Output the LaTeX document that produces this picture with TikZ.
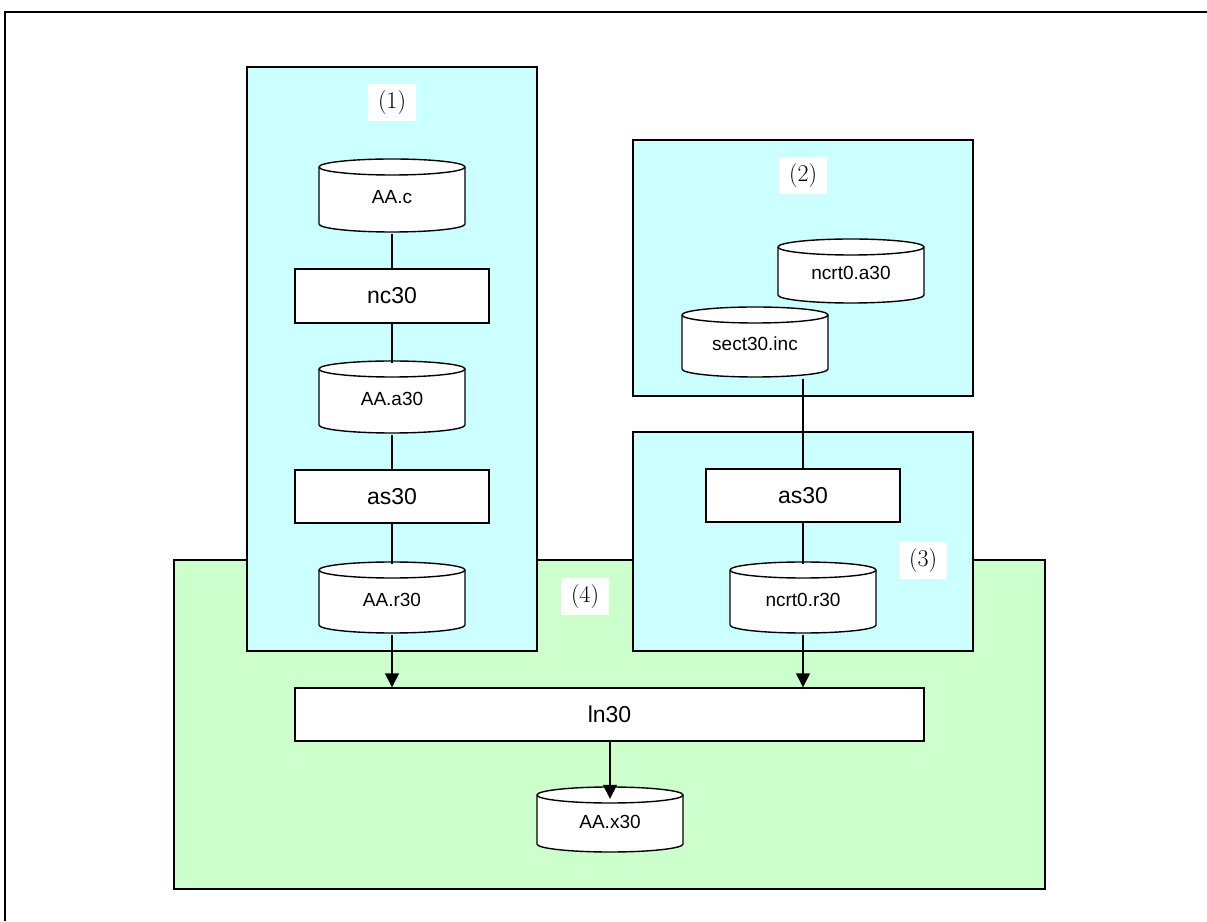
\documentclass[tikz,border=0pt]{standalone}
\usepackage{fontspec}
\newfontfamily\sansf{Liberation Sans}
\usetikzlibrary{arrows.meta}
\definecolor{regcyan}{HTML}{CCFFFF}
\definecolor{reggreen}{HTML}{CCFFCC}
\tikzset{
  region/.style={draw=black, line width=1.5pt, inner sep=0pt},
  cyanreg/.style={region, fill=regcyan},
  greenreg/.style={region, fill=reggreen},
  proc/.style={draw=black, fill=white, line width=1.4pt, inner sep=0pt,
    font=\sansf\fontsize{23}{23}\selectfont},
  cyltext/.style={inner sep=0pt, font=\sansf\fontsize{19}{19}\selectfont},
  cylline/.style={draw=black, fill=white, line width=1.4pt},
  tag/.style={fill=white, inner sep=0pt, minimum width=48pt, minimum height=37pt,
    font=\fontsize{24}{24}\selectfont},
  conn/.style={line width=1.5pt},
  arr/.style={conn, -{Triangle[width=14pt,length=14pt]}},
  frameline/.style={line width=2.2pt},
}
% name, cx, top (px from top), height, width, text
\newcommand{\dbcyl}[6]{%
  \pgfmathsetmacro\cylT{921-#3}%
  \pgfmathsetmacro\cylB{921-#3-#4}%
  \pgfmathsetmacro\cylL{#2-#5/2}%
  \pgfmathsetmacro\cylR{#2+#5/2}%
  \pgfmathsetmacro\cylrx{#5/2}%
  \path[cylline] (\cylL,\cylT-8) -- (\cylL,\cylB+8)
    arc[start angle=180,end angle=360,x radius=\cylrx pt,y radius=8pt]
    -- (\cylR,\cylT-8)
    arc[start angle=0,end angle=180,x radius=\cylrx pt,y radius=8pt] -- cycle;
  \draw[cylline, fill=none] (\cylL,\cylT-8)
    arc[start angle=180,end angle=360,x radius=\cylrx pt,y radius=8pt];
  \node[cyltext, minimum width=#5pt, minimum height=#4pt] (#1)
    at (#2,{(\cylT+\cylB)/2+ -2}) {#6};%
}
\begin{document}
\begin{tikzpicture}[x=1pt,y=1pt]
\useasboundingbox (0,0) rectangle (1207,921);
\draw[frameline] (5,0) -- (5,909) -- (1207,909);

% regions
\node[greenreg, minimum width=871pt, minimum height=329pt] (r4) at (609.5,196.5) {};
\node[cyanreg, minimum width=290pt, minimum height=584pt] (r1) at (392,562) {};
\node[cyanreg, minimum width=340pt, minimum height=256pt] (r2) at (803,653) {};
\node[cyanreg, minimum width=340pt, minimum height=219pt] (r3) at (803,379.5) {};

% region labels
\node[tag] (t1) at (392,818) {(1)};
\node[tag] (t2) at (803,745) {(2)};
\node[tag] (t3) at (923,360) {(3)};
\node[tag] (t4) at (585,324) {(4)};

% column (1)
\dbcyl{aac}{392}{159}{73}{146}{AA.c}
\node[proc, minimum width=194pt, minimum height=54pt] (nc) at (392,625) {nc30};
\dbcyl{aaa}{392}{361}{72}{146}{AA.a30}
\node[proc, minimum width=194pt, minimum height=53pt] (asa) at (392,424.5) {as30};
\dbcyl{aar}{392}{562}{71}{146}{AA.r30}

% column (2)/(3)
\dbcyl{nca}{851}{239}{64}{146}{ncrt0.a30}
\dbcyl{sect}{755}{307}{70}{146}{sect30.inc}
\node[proc, minimum width=194pt, minimum height=53pt] (asb) at (803,425.5) {as30};
\dbcyl{ncr}{803}{562}{71}{146}{ncrt0.r30}

% link
\node[proc, minimum width=629pt, minimum height=53pt] (ln) at (609.5,206.5) {ln30};
\dbcyl{aax}{610}{787}{65}{146}{AA.x30}
\coordinate (aaxtop) at ([yshift=-10pt]aax.north);

% connectors
\draw[conn] (aac.south) -- (nc.north);
\draw[conn] (nc.south) -- (aaa.north);
\draw[conn] (aaa.south) -- (asa.north);
\draw[conn] (asa.south) -- (aar.north);
\draw[arr] (aar.south) -- (aar.south |- ln.north);
\draw[conn] (asb.north |- sect.south) -- (asb.north);
\draw[conn] (asb.south) -- (ncr.north);
\draw[arr] (ncr.south) -- (ncr.south |- ln.north);
\draw[arr] (aaxtop |- ln.south) -- (aaxtop);
\end{tikzpicture}
\end{document}
